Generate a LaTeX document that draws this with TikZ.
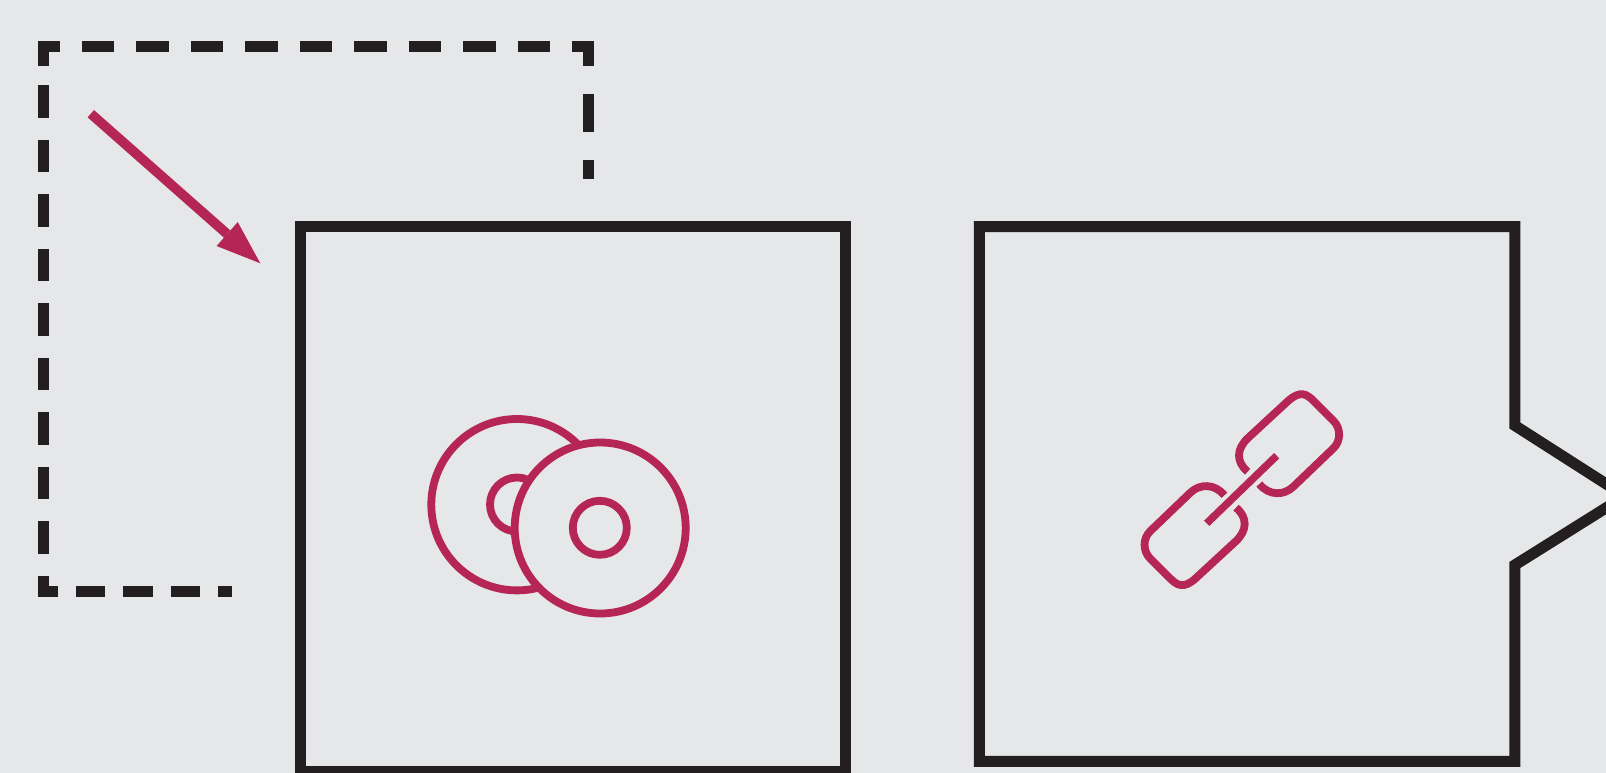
\documentclass[tikz,border=0pt]{standalone}
\usetikzlibrary{arrows.meta}
\definecolor{bgc}{HTML}{E6E7E8}
\definecolor{ink}{HTML}{231F20}
\definecolor{mag}{HTML}{B52555}
\tikzset{
  boxline/.style={draw=ink,line width=11pt,miter limit=20},
  dashline/.style={draw=ink,line width=11pt,line cap=butt,miter limit=20},
  iconline/.style={draw=mag,line width=7.8pt},
  pointer/.style={draw=mag,line width=9.7pt,-{Triangle[length=44.2pt,width=31.9pt,line width=0pt]}},
}
\newcommand{\chainlink}{%
  \draw[iconline] (383,305) .. controls (348,276) and (348,237) .. (385,203) -- (503,94)
    .. controls (541,59) and (561,73) .. (581,93) -- (641,153)
    .. controls (662,174) and (664,212) .. (640,235) -- (520,350)
    .. controls (492,377) and (447,378) .. (418,342);
}
\begin{document}
\begin{tikzpicture}[x=1pt,y=-1pt]
\useasboundingbox (0,0) rectangle (1606,773);
\fill[bgc] (0,0) rectangle (1606,773);
\clip (0,0) rectangle (1606,773);
% dashed frame: corners
\draw[dashline] (60,47) -- (43.5,47) -- (43.5,66);
\draw[dashline] (571.7,47) -- (588,47) -- (588,66);
\draw[dashline] (43.5,575.7) -- (43.5,591.8) -- (57.7,591.8);
% top dashes
\foreach \a/\b in {81.5/114,136/168.5,190.5/223,245/277.5,299.5/332,354/386.5,408.5/441,463/495.5,517.5/550}
  \draw[dashline] (\a,47) -- (\b,47);
% left dashes
\foreach \a/\b in {85.3/117.7,139.8/172.2,194.3/226.7,248.8/281.2,303.3/335.7,357.8/390.2,412.3/444.7,466.8/499.2,521.3/553.7}
  \draw[dashline] (43.5,\a) -- (43.5,\b);
% right dashes
\draw[dashline] (588,93.7) -- (588,131.7);
\draw[dashline] (588,159.7) -- (588,178.7);
% bottom dashes
\foreach \a/\b in {76/105,123.3/152.5,170.5/199.7,217.7/232.3}
  \draw[dashline] (\a,591.8) -- (\b,591.8);
% pointer
\coordinate (ps) at (90.8,113.7);
\coordinate (pe) at (260.3,263.3);
\draw[pointer] (ps) -- (pe);
% boxes
\draw[boxline] (300.3,226.7) rectangle (845.3,771.5);
\draw[boxline] (979.3,226.7) -- (1514.8,226.7) -- (1514.8,425.5) -- (1625,496) -- (1514.8,565) -- (1514.8,761.3) -- (979.3,761.3) -- cycle;
% discs
\draw[iconline] (517,504.7) circle[radius=85.7];
\draw[iconline] (517,504.5) circle[radius=27];
\draw[iconline,fill=bgc] (600.2,528) circle[radius=85.5];
\draw[iconline] (599.8,527.8) circle[radius=27];
% chain
\begin{scope}[shift={(1120,370)},scale=1/3]
  \chainlink
\end{scope}
\begin{scope}[shift={(1363.67,609.33)},scale=-1/3]
  \chainlink
\end{scope}
\draw[iconline,line width=7.5pt] (1206.7,523.3) -- (1276.7,455.7);
\end{tikzpicture}
\end{document}
